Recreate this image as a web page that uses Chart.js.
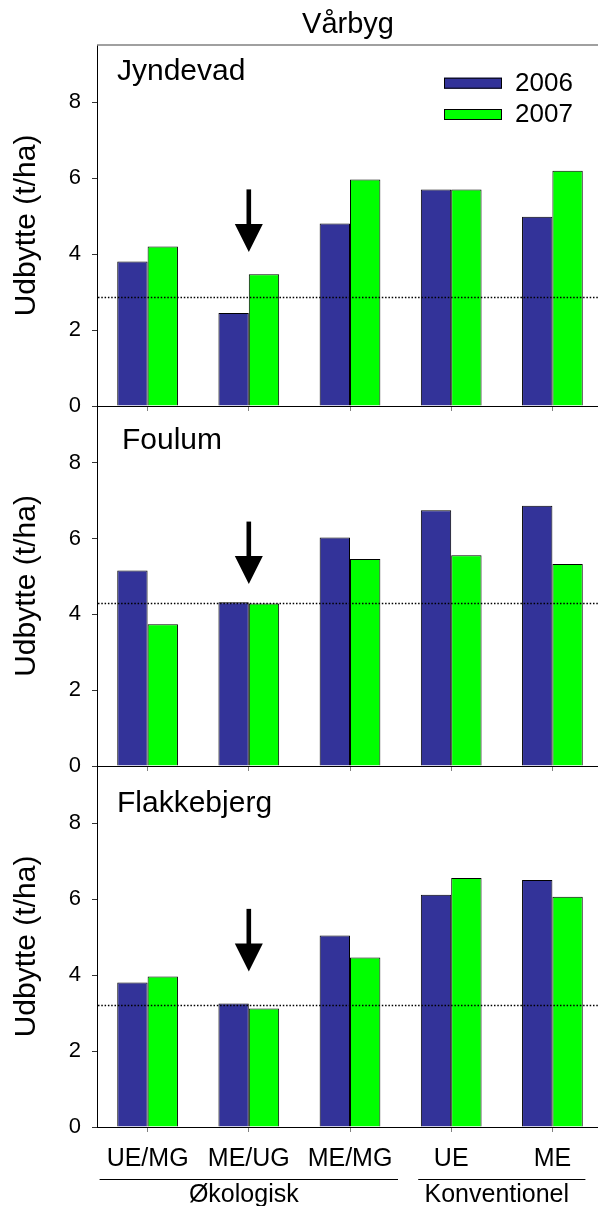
<!DOCTYPE html>
<html>
<head>
<meta charset="utf-8">
<script src="https://cdn.jsdelivr.net/npm/chart.js@4.4.1/dist/chart.umd.min.js"></script>
<style>
  html, body { margin: 0; padding: 0; background: #fff; overflow: hidden; }
  body { width: 598px; height: 1206px; position: relative; }
  canvas { position: absolute; left: 0; }
</style>
</head>
<body>
<canvas id="p0" width="603" height="431"></canvas>
<canvas id="p1" width="603" height="425"></canvas>
<canvas id="p2" width="603" height="480"></canvas>
<script>
// data
const categories = ['UE/MG', 'ME/UG', 'ME/MG', 'UE', 'ME'];
const years = ['2006', '2007'];
const sites = ['Jyndevad', 'Foulum', 'Flakkebjerg'];

const jyndevad2006 = [3.80, 2.45, 4.80, 5.70, 4.98];
const jyndevad2007 = [4.20, 3.47, 5.96, 5.70, 6.19];
const foulum2006 = [5.16, 4.32, 6.03, 6.75, 6.87];
const foulum2007 = [3.74, 4.29, 5.46, 5.56, 5.33];
const flakkebjerg2006 = [3.80, 3.25, 5.04, 6.11, 6.50];
const flakkebjerg2007 = [3.96, 3.12, 4.46, 6.55, 6.06];

const refLevel = [2.87, 4.29, 3.21];   // dotted line per site
const arrowTip = [4.05, 4.80, 4.09];
const arrowTail = [5.70, 6.45, 5.74];
const arrowCategory = 'ME/UG';

const yTicks = [0, 2, 4, 6, 8];
const yMax = 9.5;

const groups = ['Økologisk', 'Konventionel'];
const groupFirst = [0, 3];
const groupLast = [2, 4];

const siteValues = [
  [jyndevad2006, jyndevad2007],
  [foulum2006, foulum2007],
  [flakkebjerg2006, flakkebjerg2007]
];

// styles
const colors = ['#333399', '#00ff00'];
const canvasTop = [0, 366, 726];
const padTop = [45, 40, 40];
const padBottom = [20, 20, 19];
const xHeight = [5, 5, 60];
const labelX = [117, 122, 117];
const labelDY = [34.5, 42.5, 45.7];
const groupInset = [48, 33];

Chart.defaults.font.family = "'Liberation Sans', Arial, sans-serif";
Chart.defaults.color = '#000';

function panelDecor(i) {
  return {
    id: 'decor' + i,
    afterDatasetsDraw(chart) {
      const {ctx, chartArea: a, scales: {x, y}} = chart;
      ctx.save();

      // dotted reference line
      const ry = Math.round(y.getPixelForValue(refLevel[i])) + 0.5;
      ctx.strokeStyle = '#000';
      ctx.lineWidth = 1.4;
      ctx.setLineDash([1.5, 1.8]);
      ctx.beginPath();
      ctx.moveTo(a.left + 1, ry);
      ctx.lineTo(a.right, ry);
      ctx.stroke();
      ctx.setLineDash([]);

      // arrow
      const ax = x.getPixelForValue(categories.indexOf(arrowCategory));
      const tipY = y.getPixelForValue(arrowTip[i]);
      const tailY = y.getPixelForValue(arrowTail[i]);
      const headLen = 28, headW = 14;
      ctx.fillStyle = '#000';
      ctx.fillRect(ax - 2.3, tailY, 4.6, tipY - headLen - tailY + 1);
      ctx.beginPath();
      ctx.moveTo(ax - headW, tipY - headLen);
      ctx.lineTo(ax + headW, tipY - headLen);
      ctx.lineTo(ax, tipY);
      ctx.closePath();
      ctx.fill();

      // site label
      ctx.font = "30px 'Liberation Sans', Arial, sans-serif";
      ctx.textAlign = 'left';
      ctx.textBaseline = 'alphabetic';
      ctx.fillText(sites[i], labelX[i], a.top + labelDY[i]);

      if (i === 0) {
        // top frame line
        ctx.strokeStyle = '#808080';
        ctx.lineWidth = 1.5;
        ctx.beginPath();
        ctx.moveTo(a.left, a.top);
        ctx.lineTo(a.right, a.top);
        ctx.stroke();

        // title
        ctx.font = "29px 'Liberation Sans', Arial, sans-serif";
        ctx.textAlign = 'center';
        ctx.fillText('Vårbyg', (a.left + a.right) / 2 - 2, 33);

        // legend
        ctx.font = "26px 'Liberation Sans', Arial, sans-serif";
        ctx.textAlign = 'left';
        ctx.textBaseline = 'middle';
        years.forEach((yr, k) => {
          const by = a.top + 32.7 + k * 31.3;
          ctx.fillStyle = colors[k];
          ctx.fillRect(444, by, 58, 11);
          ctx.strokeStyle = '#000';
          ctx.lineWidth = 1;
          ctx.strokeRect(444.5, by + 0.5, 57, 10);
          ctx.fillStyle = '#000';
          ctx.fillText(yr, 515, by + 6);
        });
      }

      if (i === 2) {
        // group labels under the categories
        ctx.font = "25px 'Liberation Sans', Arial, sans-serif";
        ctx.textAlign = 'center';
        ctx.textBaseline = 'alphabetic';
        ctx.strokeStyle = '#000';
        ctx.lineWidth = 1.2;
        groups.forEach((g, k) => {
          const x0 = x.getPixelForValue(groupFirst[k]) - groupInset[k];
          const x1 = x.getPixelForValue(groupLast[k]) + groupInset[k];
          const ly = a.bottom + 52.5;
          ctx.beginPath();
          ctx.moveTo(x0, ly);
          ctx.lineTo(x1, ly);
          ctx.stroke();
          ctx.fillText(g, (x0 + x1) / 2 - 5, a.bottom + 74.7);
        });
      }
      ctx.restore();
    }
  };
}

sites.forEach((site, i) => {
  const cv = document.getElementById('p' + i);
  cv.style.top = canvasTop[i] + 'px';
  cv.style.width = cv.width + 'px';
  cv.style.height = cv.height + 'px';

  new Chart(cv, {
    type: 'bar',
    data: {
      labels: categories,
      datasets: years.map((yr, k) => ({
        label: yr,
        data: siteValues[i][k],
        backgroundColor: colors[k],
        borderColor: '#000',
        borderWidth: 1,
        categoryPercentage: 0.6,
        barPercentage: 1.0
      }))
    },
    options: {
      responsive: false,
      animation: false,
      events: [],
      layout: { padding: { top: padTop[i], bottom: padBottom[i], left: 0, right: 0 } },
      plugins: { legend: { display: false }, tooltip: { enabled: false } },
      scales: {
        x: {
          afterFit: s => { s.height = xHeight[i]; },
          border: { color: '#000', width: 1 },
          grid: { offset: false, drawOnChartArea: false, tickLength: 5, tickColor: '#808080' },
          ticks: { display: i === 2, font: { size: 25 }, padding: 12, maxRotation: 0, autoSkip: false }
        },
        y: {
          min: 0,
          max: yMax,
          afterBuildTicks: s => { s.ticks = yTicks.map(v => ({ value: v })); },
          afterFit: s => { s.width = 97; },
          border: { color: '#000', width: 1 },
          grid: { drawOnChartArea: false, tickLength: 5, tickColor: '#333' },
          ticks: { font: { size: 22 }, padding: 11 },
          title: { display: true, text: 'Udbytte (t/ha)', font: { size: 30 }, padding: { top: 9, bottom: 0 } }
        }
      }
    },
    plugins: [panelDecor(i)]
  });
});
</script>
</body>
</html>
